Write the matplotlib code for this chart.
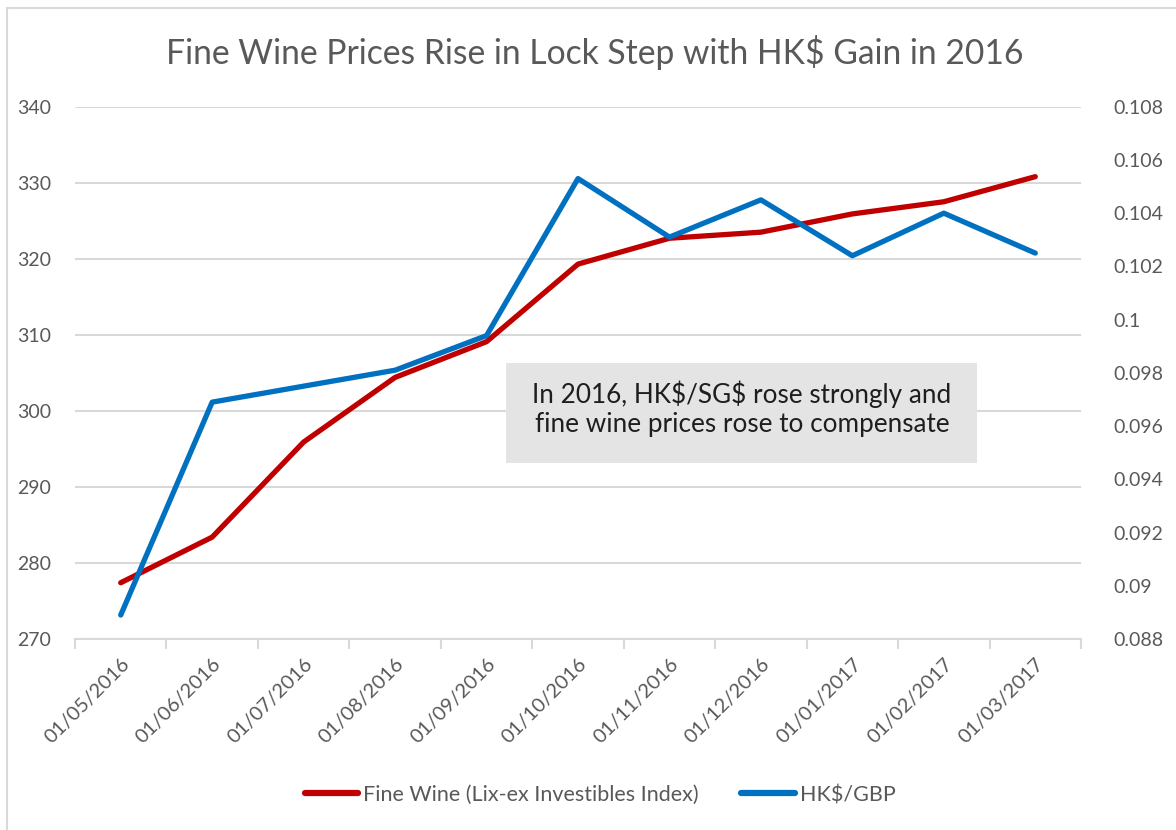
import matplotlib
matplotlib.use("Agg")
import matplotlib.pyplot as plt
from matplotlib.patches import Rectangle
from matplotlib.lines import Line2D
import numpy as np

# ---- data ----
dates = ["01/05/2016", "01/06/2016", "01/07/2016", "01/08/2016", "01/09/2016",
         "01/10/2016", "01/11/2016", "01/12/2016", "01/01/2017", "01/02/2017",
         "01/03/2017"]
fine_wine = [277.4, 283.4, 295.9, 304.4, 309.1, 319.3, 322.7, 323.5, 325.9, 327.5, 330.8]
hkd_gbp = [0.0889, 0.0969, 0.0975, 0.0981, 0.0994, 0.1053, 0.1031, 0.1045, 0.1024, 0.1040, 0.1025]
left_ticks = [270, 280, 290, 300, 310, 320, 330, 340]
right_ticks = [0.088, 0.090, 0.092, 0.094, 0.096, 0.098, 0.100, 0.102, 0.104, 0.106, 0.108]

title = "Fine Wine Prices Rise in Lock Step with HK\\$ Gain in 2016"
note = "In 2016, HK\\$/SG\\$ rose strongly and\nfine wine prices rose to compensate"
label_wine = "Fine Wine (Lix-ex Investibles Index)"
label_fx = "HK\\$/GBP"

RED = "#c00000"
BLUE = "#0070c0"
GRID = "#d9d9d9"
TXT = "#595959"

plt.rcParams["font.family"] = ["Lato", "DejaVu Sans"]

W, H = 1176, 830
fig = plt.figure(figsize=(W / 100, H / 100), dpi=100)
fig.patch.set_facecolor("white")

# outer chart frame (cut off at right/bottom like the reference)
fig.patches.append(Rectangle((7 / W, -0.05), 1.2, 1 - 8 / H + 0.05,
                             transform=fig.transFigure, fill=False,
                             edgecolor=GRID, lw=1.5, zorder=0))

ax = fig.add_axes([75 / W, 1 - 639 / H, (1081 - 75) / W, (639 - 106.7) / H])
x = np.arange(len(dates))

ax.set_xlim(-0.5, len(dates) - 0.5)
ax.set_ylim(270, 340)
ax.set_yticks(left_ticks)
ax.set_yticklabels([str(v) for v in left_ticks])
ax.yaxis.grid(True, color=GRID, lw=1.5)
ax.set_axisbelow(True)
for s in ["top", "right", "left"]:
    ax.spines[s].set_visible(False)
ax.spines["bottom"].set_color(GRID)
ax.spines["bottom"].set_linewidth(1.5)
ax.tick_params(axis="y", length=0, pad=17, labelsize=14, labelcolor=TXT)

# boundary ticks (major) and label ticks (minor)
ax.set_xticks(np.arange(-0.5, len(dates), 1.0))
ax.set_xticklabels([])
ax.tick_params(axis="x", which="major", length=7, width=1.5, color=GRID)
ax.set_xticks(x, minor=True)
ax.set_xticklabels(dates, minor=True, rotation=45, ha="right",
                   rotation_mode="anchor", fontsize=14.5, color=TXT)
ax.tick_params(axis="x", which="minor", length=0, pad=12)

ax.plot(x, fine_wine, color=RED, lw=3.8, solid_capstyle="round",
        solid_joinstyle="round", zorder=3)

ax2 = ax.twinx()
ax2.set_ylim(0.088, 0.108)
ax2.set_yticks(right_ticks)
ax2.set_yticklabels([f"{v:.3f}".rstrip("0").rstrip(".") for v in right_ticks])
for s in ax2.spines.values():
    s.set_visible(False)
ax2.tick_params(axis="y", length=0, pad=23, labelsize=14, labelcolor=TXT)
ax2.plot(x, hkd_gbp, color=BLUE, lw=3.8, solid_capstyle="round",
         solid_joinstyle="round", zorder=3)

# annotation box
fig.patches.append(Rectangle((506 / W, 1 - 463 / H), (977 - 506) / W, 100 / H,
                             transform=fig.transFigure, facecolor="#e4e4e4",
                             edgecolor="none", zorder=5))
fig.text(742 / W, 1 - 409 / H, note, ha="center", va="center",
         multialignment="center", fontsize=18.8, color="#1e1e1e",
         linespacing=1.2, zorder=6)

# title
fig.text(595 / W, 1 - 53 / H, title, ha="center", va="center",
         fontsize=24.2, color=TXT)

# legend
handles = [Line2D([], [], color=RED, lw=4.5, solid_capstyle="round"),
           Line2D([], [], color=BLUE, lw=4.5, solid_capstyle="round")]
fig.legend(handles, [label_wine, label_fx], loc="center",
           bbox_to_anchor=(600 / W, 1 - 795 / H), ncol=2, frameon=False,
           fontsize=15.5, labelcolor=TXT, handlelength=2.5, handletextpad=0.2,
           columnspacing=2.0)

fig.savefig("out.png", dpi=100, facecolor="white")
